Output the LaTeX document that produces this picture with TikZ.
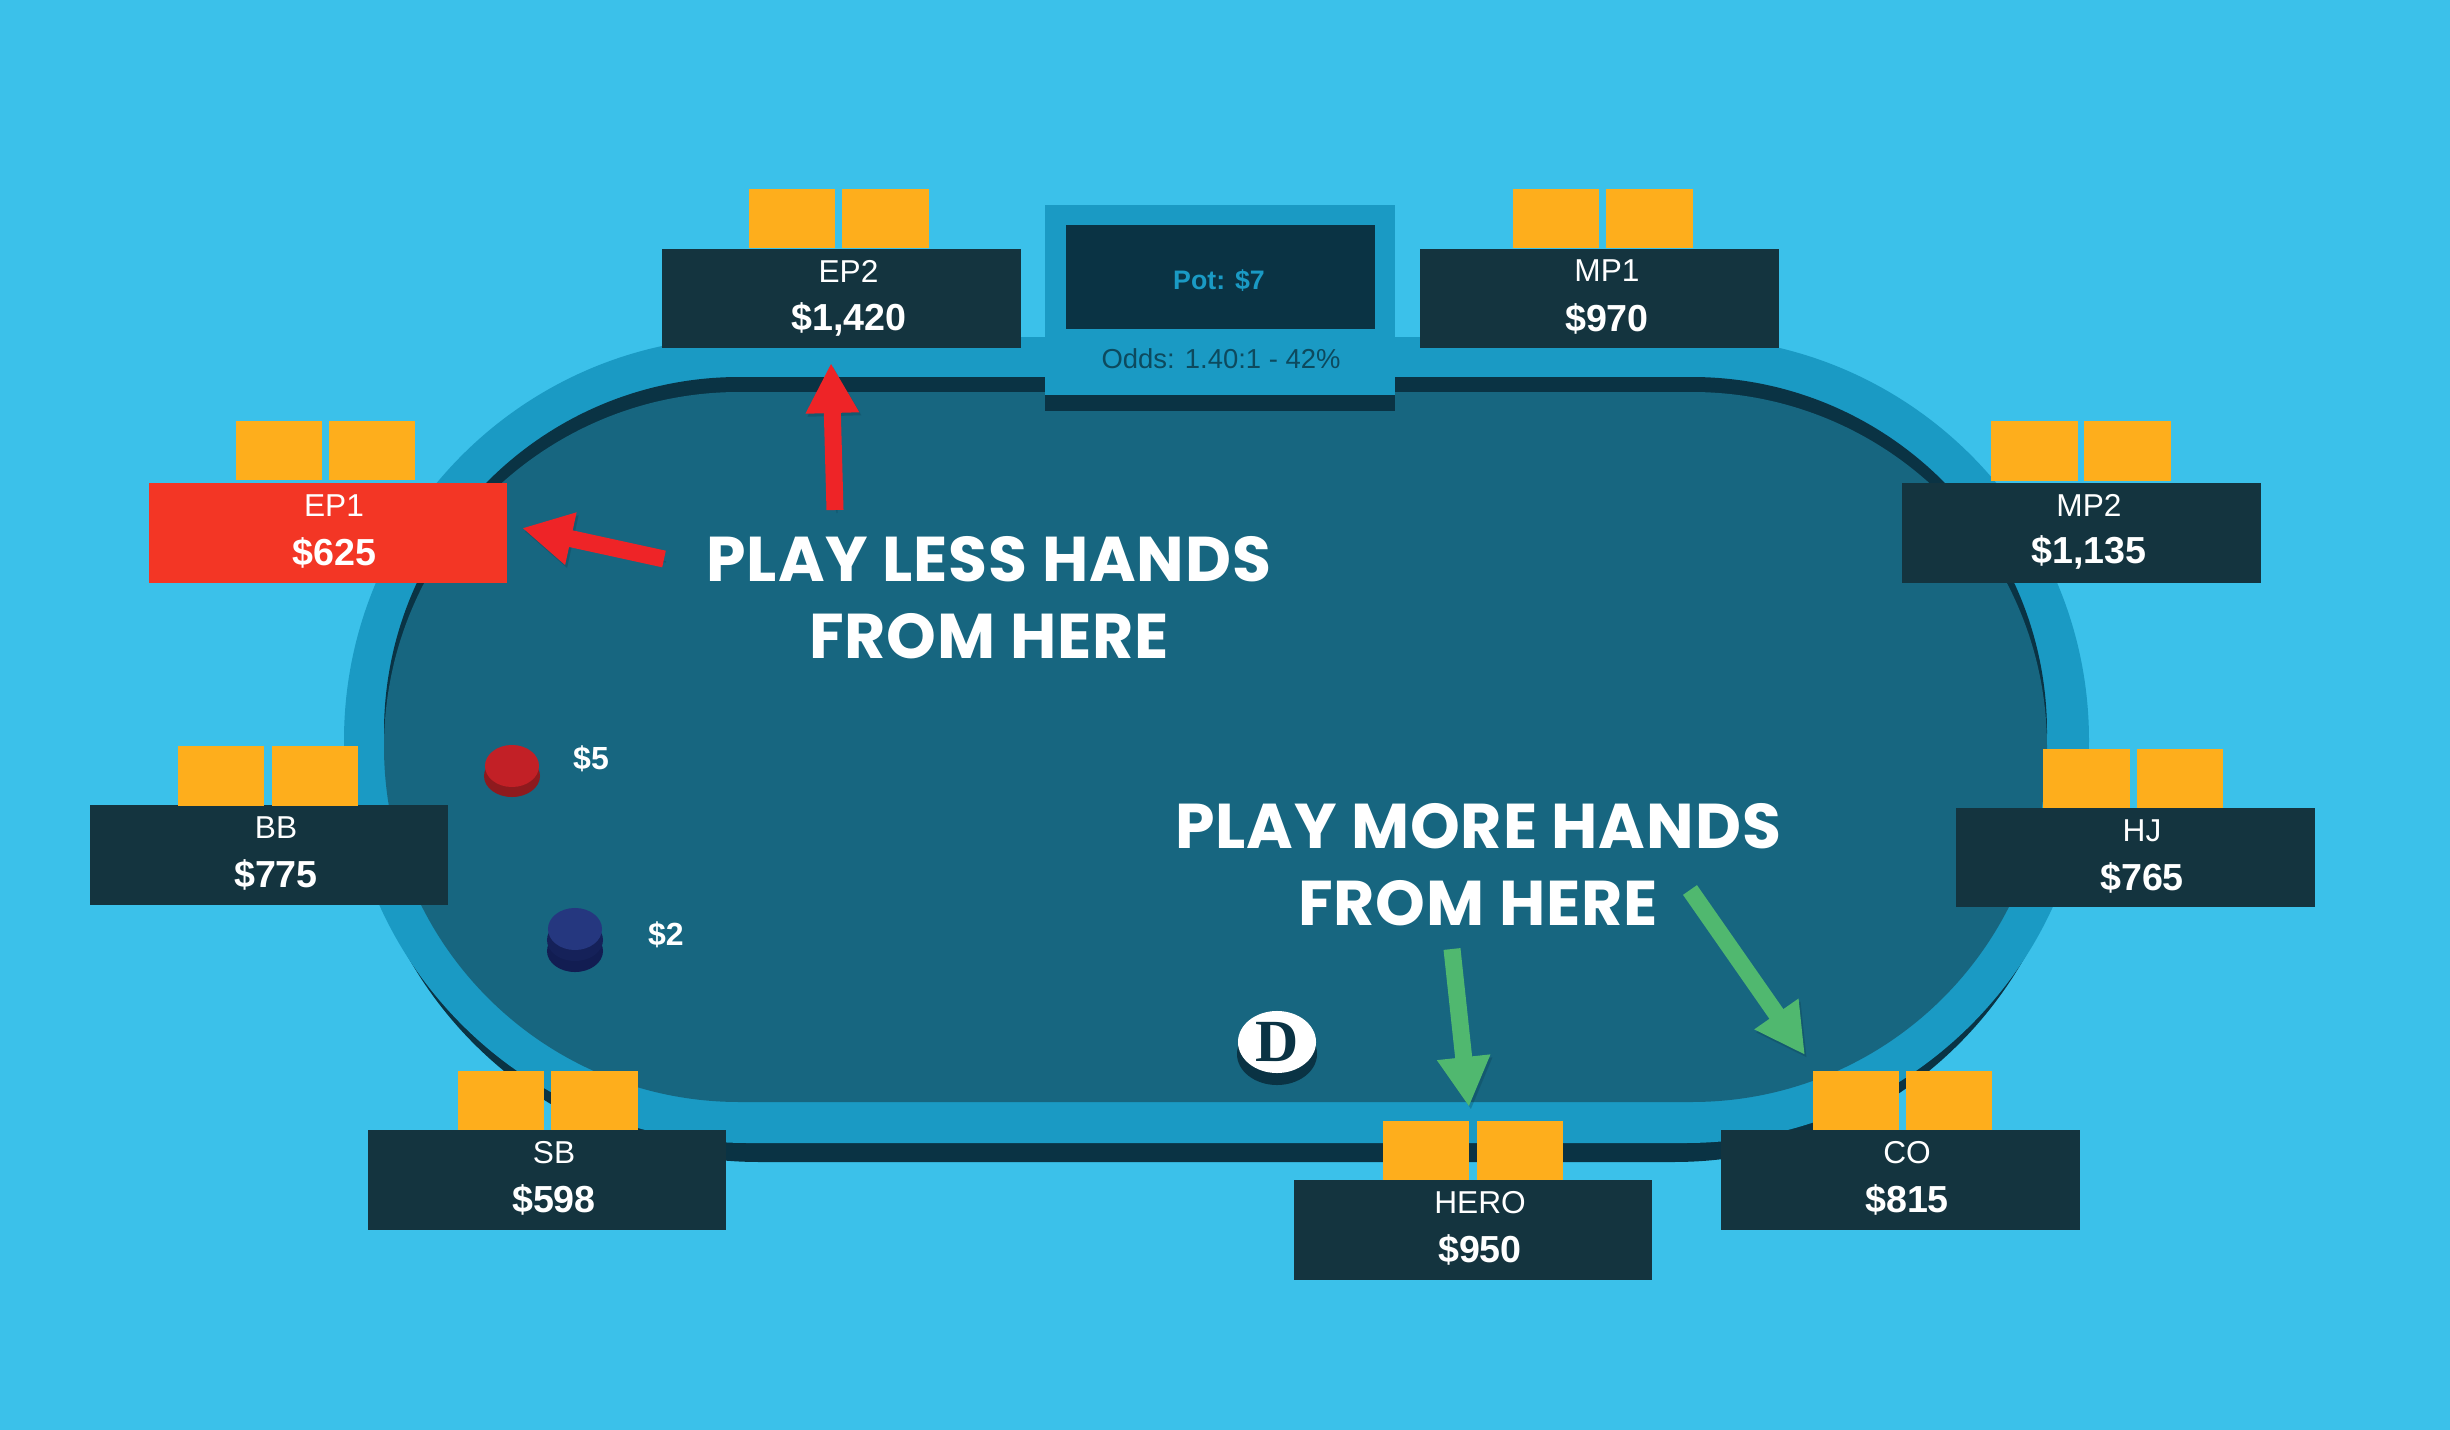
\documentclass[tikz,border=0pt]{standalone}
\usepackage{fontspec}
\usepackage{xcolor}
\usetikzlibrary{arrows.meta,shapes.geometric}
\setmainfont{Liberation Sans}
\newfontfamily\headfont[LetterSpace=1.5]{Poppins}
\newfontfamily\dealerfont{Liberation Serif}
\definecolor{skyblue}{HTML}{3BC1EA}
\definecolor{railblue}{HTML}{1A9AC4}
\definecolor{feltblue}{HTML}{176680}
\definecolor{shadeblue}{HTML}{0A3344}
\definecolor{seatblue}{HTML}{14343F}
\definecolor{seatred}{HTML}{F33625}
\definecolor{cardgold}{HTML}{FEAE1C}
\definecolor{oddsblue}{HTML}{0D4A5E}
\definecolor{arrowred}{HTML}{EE2427}
\definecolor{arrowgreen}{HTML}{50B86F}
\definecolor{chipred}{HTML}{C22026}
\definecolor{chipreddark}{HTML}{8E1A1E}
\definecolor{chipblue}{HTML}{25377F}
\definecolor{chipbluedark}{HTML}{121D52}
\tikzset{
  seat/.style={fill=seatblue,minimum width=3.58cm,minimum height=0.99cm},
  card/.style={fill=cardgold,minimum width=0.86cm,minimum height=0.59cm},
  seatname/.style={text=white,font=\fontsize{9}{11}\selectfont},
  stack/.style={text=white,font=\fontsize{10.7}{13}\selectfont\bfseries},
  betlabel/.style={text=white,font=\fontsize{9.1}{11}\selectfont\bfseries},
  headline/.style={text=white,font=\fontsize{18}{22}\selectfont\headfont\bfseries},
  arrowshade/.style={preaction={draw=shadeblue,opacity=0.25,transform canvas={shift={(0.02cm,-0.03cm)}}}},
  redarrow/.style={arrowshade,draw=arrowred,line width=0.17cm,-{Triangle[length=0.5cm,width=0.5cm]}},
  greenarrow/.style={arrowshade,draw=arrowgreen,line width=0.17cm,-{Triangle[length=0.5cm,width=0.5cm]}}
}
\begin{document}
\begin{tikzpicture}[x=0.01cm,y=0.01cm]
\tikzstyle{every node}+=[inner sep=0pt]
\useasboundingbox (0,0) rectangle (2450,-1430);
\fill [skyblue] (0,0) rectangle (2450,-1430);
% table
\fill [shadeblue,rounded corners=4.03cm] (356,-356) rectangle (2077,-1162);
\fill [railblue,rounded corners=4.03cm] (344,-337) rectangle (2089,-1143);
\fill [shadeblue,rounded corners=3.55cm] (384,-377) rectangle (2047,-1087);
\fill [feltblue,rounded corners=3.55cm] (384,-392) rectangle (2047,-1102);
% pot
\fill [shadeblue] (1045,-395) rectangle (1395,-411);
\fill [railblue] (1045,-205) rectangle (1395,-395);
\fill [shadeblue] (1066,-225) rectangle (1375,-329);
\node (pot) at (1219,-281) [text=railblue,font=\fontsize{7.6}{9}\selectfont\bfseries] {Pot: \$7};
\node (odds) at (1221,-359) [text=oddsblue,font=\fontsize{7.8}{9}\selectfont] {Odds: 1.40:1 - 42\%};
% seats
\node (ep2) at (841.5,-298.5) [seat] {};
\node (ep2a) at (792,-218.5) [card] {};
\node (ep2b) at (885.5,-218.5) [card] {};
\node (ep2n) at (848.5,-271) [seatname] {EP2};
\node (ep2s) at (849,-319) [stack] {\$1,420};
\node (mp1) at (1599.5,-298.5) [seat] {};
\node (mp1a) at (1556,-218.5) [card] {};
\node (mp1b) at (1649.5,-218.5) [card] {};
\node (mp1n) at (1607,-271) [seatname] {MP1};
\node (mp1s) at (1607,-318.5) [stack] {\$970};
\node (ep1) at (328,-533) [seat,fill=seatred] {};
\node (ep1a) at (279,-450.5) [card] {};
\node (ep1b) at (372,-450.5) [card] {};
\node (ep1n) at (334,-505.5) [seatname] {EP1};
\node (ep1s) at (334.5,-552.5) [stack] {\$625};
\node (mp2) at (2081.5,-533) [seat] {};
\node (mp2a) at (2034.5,-451) [card] {};
\node (mp2b) at (2127.5,-451) [card] {};
\node (mp2n) at (2089,-505.5) [seatname] {MP2};
\node (mp2s) at (2089,-552.5) [stack] {\$1,135};
\node (bb) at (269,-855) [seat] {};
\node (bba) at (221,-776) [card] {};
\node (bbb) at (315,-776) [card] {};
\node (bbn) at (276,-827.5) [seatname] {BB};
\node (bbs) at (276,-875) [stack] {\$775};
\node (hj) at (2135.5,-857.5) [seat] {};
\node (hja) at (2086.5,-778.5) [card] {};
\node (hjb) at (2180,-778.5) [card] {};
\node (hjn) at (2142,-830.5) [seatname] {HJ};
\node (hjs) at (2142,-877.5) [stack] {\$765};
\node (sb) at (547,-1180) [seat] {};
\node (sba) at (501,-1100.5) [card] {};
\node (sbb) at (594.5,-1100.5) [card] {};
\node (sbn) at (554,-1153) [seatname] {SB};
\node (sbs) at (554,-1200) [stack] {\$598};
\node (co) at (1900.5,-1180) [seat] {};
\node (coa) at (1856,-1100.5) [card] {};
\node (cob) at (1949,-1100.5) [card] {};
\node (con) at (1907,-1153) [seatname] {CO};
\node (cos) at (1907,-1200) [stack] {\$815};
\node (hero) at (1473,-1230) [seat] {};
\node (heroa) at (1426,-1150.5) [card] {};
\node (herob) at (1520,-1150.5) [card] {};
\node (heron) at (1480,-1203) [seatname] {HERO};
\node (heros) at (1480,-1250) [stack] {\$950};
% chips
\fill [chipreddark] (512,-776) ellipse (0.28cm and 0.21cm);
\fill [chipred] (512,-766) ellipse (0.27cm and 0.21cm);
\node (five) at (591,-759) [betlabel] {\$5};
\fill [chipbluedark] (575,-951) ellipse (0.28cm and 0.21cm);
\fill [chipbluedark!85!chipblue] (575,-940) ellipse (0.28cm and 0.21cm);
\fill [chipblue] (575,-929) ellipse (0.27cm and 0.21cm);
\node (two) at (666,-935) [betlabel] {\$2};
% dealer
\fill [shadeblue] (1277,-1054) ellipse (0.40cm and 0.31cm);
\node (dealer) at (1277,-1042) [fill=white,ellipse,minimum width=0.78cm,minimum height=0.62cm,text=shadeblue,font=\fontsize{17}{19}\selectfont\dealerfont\bfseries] {D};
% text and arrows
\node (less) at (989,-559.5) [headline] {PLAY LESS HANDS};
\node (lessb) at (989,-636.5) [headline] {FROM HERE};
\node (more) at (1478,-826.5) [headline] {PLAY MORE HANDS};
\node (moreb) at (1478,-903.5) [headline] {FROM HERE};
\coordinate (ra) at (835,-510);
\coordinate (rb) at (831,-363);
\coordinate (rc) at (664,-559);
\coordinate (rd) at (522,-528);
\coordinate (ga) at (1452,-949);
\coordinate (gb) at (1469,-1107);
\coordinate (gc) at (1690,-890);
\coordinate (gd) at (1805,-1055);
\draw [redarrow] (ra) -- (rb);
\draw [redarrow] (rc) -- (rd);
\draw [greenarrow] (ga) -- (gb);
\draw [greenarrow] (gc) -- (gd);
\end{tikzpicture}
\end{document}
